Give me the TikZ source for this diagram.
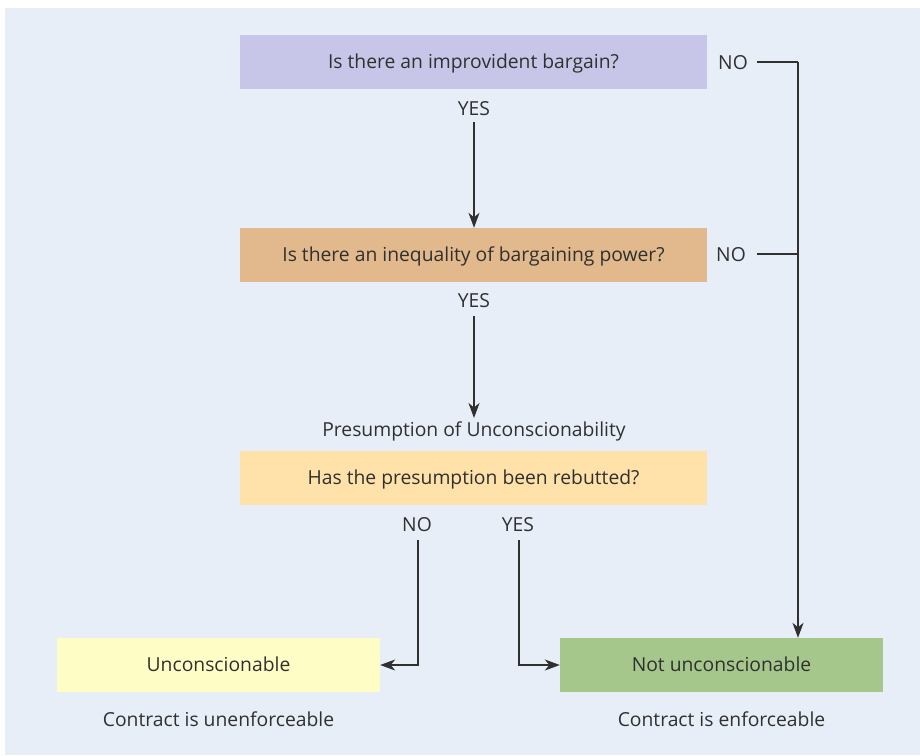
\documentclass[tikz,border=0pt]{standalone}
\usepackage{fontspec}
\setmainfont{Open Sans}
\usetikzlibrary{arrows.meta}
\definecolor{bg}{HTML}{E7EEF8}
\definecolor{lav}{HTML}{C7C6E8}
\definecolor{tan}{HTML}{E2B98C}
\definecolor{peach}{HTML}{FFE2A9}
\definecolor{paley}{HTML}{FFFDC6}
\definecolor{green}{HTML}{A6C78C}
\definecolor{ink}{HTML}{303030}
\tikzset{
  boxbase/.style={minimum height=54pt,inner sep=0pt,text=ink,text height=16pt,text depth=3pt},
  qbox/.style={boxbase,minimum width=467pt},
  rbox/.style={boxbase,minimum width=323pt},
  lbl/.style={inner sep=0pt,text=ink},
  conn/.style={draw=ink,line width=1.1pt},
  arr/.style={conn,-{Stealth[length=15pt,width=11pt,inset=4.5pt]}}
}
\begin{document}
\begin{tikzpicture}[x=1pt,y=-1pt,font=\fontsize{19.3}{23}\selectfont]
\useasboundingbox (0,0) rectangle (920,755);
\fill[white] (0,0) rectangle (920,755);
\fill[bg] (5,8) rectangle (920,755);
\node[qbox,fill=lav] (q1) at (473.5,61.5) {Is there an improvident bargain?};
\node[qbox,fill=tan] (q2) at (473.5,255) {Is there an inequality of bargaining power?};
\node[qbox,fill=peach] (q3) at (473.5,478) {Has the presumption been rebutted?};
\node[rbox,fill=paley] (r1) at (218.5,665) {Unconscionable};
\node[rbox,fill=green] (r2) at (721.5,665) {Not unconscionable};
\node[lbl] (y1) at (474,109) {YES};
\node[lbl] (y2) at (474,301) {YES};
\node[lbl] (n1) at (733,63) {NO};
\node[lbl] (n2) at (731,255) {NO};
\node[lbl] (pres) at (474,431) {Presumption of Unconscionability};
\node[lbl] (n3) at (417,525) {NO};
\node[lbl] (y3) at (518,525) {YES};
\node[lbl] (c1) at (218.5,719) {Contract is unenforceable};
\node[lbl] (c2) at (721.5,719) {Contract is enforceable};
\coordinate (rc) at (798,62);
\coordinate (rm) at (798,254);
\draw[arr] (474,122) -- (q2.north -| y1.south);
\draw[arr] (474,316) -- (474,418);
\draw[conn] (757,62) -- (rc);
\draw[conn] (757,254) -- (rm);
\draw[arr] (rc) -- (rc |- r2.north);
\draw[arr] (418,540) |- (r1.east);
\draw[arr] (519,540) |- (r2.west);
\end{tikzpicture}
\end{document}
